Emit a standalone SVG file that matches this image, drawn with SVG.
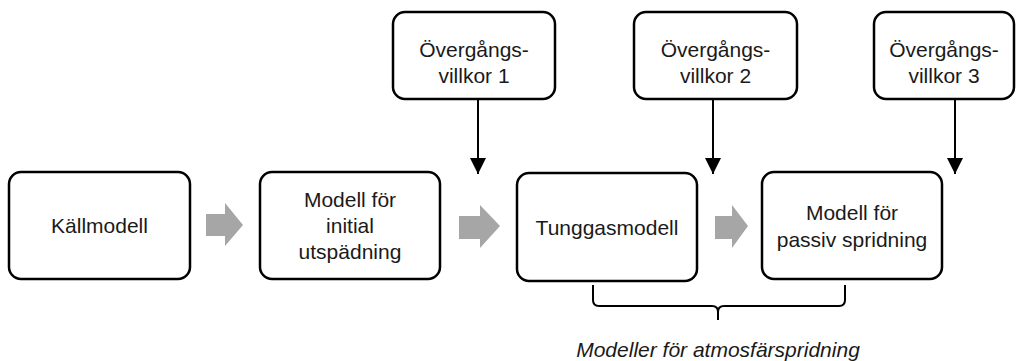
<svg xmlns="http://www.w3.org/2000/svg" width="1026" height="361" viewBox="0 0 1026 361">
<defs>
<style>
.box{fill:#fff;stroke:#000;stroke-width:2.5}
.t{font-family:"Liberation Sans",Arial,sans-serif;font-size:21px;fill:#1a1a1a;text-anchor:middle}
.it{font-family:"Liberation Sans",Arial,sans-serif;font-size:21px;font-style:italic;fill:#1a1a1a;text-anchor:middle}
.ln{stroke:#000;stroke-width:2;fill:none}
.ga{fill:#a6a6a6}
</style>
<marker id="ah" viewBox="0 0 10 10" refX="10" refY="5" markerWidth="8.5" markerHeight="8.5" markerUnits="userSpaceOnUse" orient="auto">
<path d="M0,0 L10,5 L0,10 Z" fill="#000"/>
</marker>
<marker id="ahb" viewBox="0 0 16 16" refX="16" refY="8" markerWidth="16" markerHeight="16" markerUnits="userSpaceOnUse" orient="auto">
<path d="M0,0 L16,8 L0,16 Z" fill="#000"/>
</marker>
</defs>
<rect width="1026" height="361" fill="#fff"/>

<g id="connectors">
<line class="ln" x1="478" y1="99" x2="478" y2="174" marker-end="url(#ahb)"/>
<line class="ln" x1="713" y1="99" x2="713" y2="174" marker-end="url(#ahb)"/>
<line class="ln" x1="955" y1="99" x2="955" y2="174" marker-end="url(#ahb)"/>
<polygon class="ga" points="206,214 225,214 225,203 243,225 225,246 225,236 206,236"/>
<polygon class="ga" points="459,216 480,216 480,205 500,226 480,248 480,239 459,239"/>
<polygon class="ga" points="715,216 732,216 732,205 748,226 732,248 732,239 715,239"/>
<path class="ln" d="M593,285 L593,300 Q593,306 599,306 L712,306 Q718,306 718,312 L718,320 M718,312 Q718,306 724,306 L839,306 Q845,306 845,300 L845,285"/>
</g>

<g id="n_kallmodell">
<rect class="box" x="9" y="172" width="181" height="107" rx="12"/>
<text class="t" x="99.5" y="233">Källmodell</text>
</g>

<g id="n_initial">
<rect class="box" x="260" y="172" width="180" height="107" rx="12"/>
<text class="t" x="350" y="207">Modell för</text>
<text class="t" x="350" y="233">initial</text>
<text class="t" x="350" y="259">utspädning</text>
</g>

<g id="n_tunggas">
<rect class="box" x="517" y="173" width="180" height="108" rx="12"/>
<text class="t" x="607" y="235">Tunggasmodell</text>
</g>

<g id="n_passiv">
<rect class="box" x="762" y="172" width="180" height="107" rx="12"/>
<text class="t" x="852" y="220">Modell för</text>
<text class="t" x="852" y="247">passiv spridning</text>
</g>

<g id="n_ov1">
<rect class="box" x="393" y="12" width="162" height="87" rx="12"/>
<text class="t" x="474" y="57">Övergångs-</text>
<text class="t" x="474" y="83">villkor 1</text>
</g>

<g id="n_ov2">
<rect class="box" x="634" y="12" width="163" height="87" rx="12"/>
<text class="t" x="715.5" y="57">Övergångs-</text>
<text class="t" x="715.5" y="83">villkor 2</text>
</g>

<g id="n_ov3">
<rect class="box" x="874" y="12" width="140" height="87" rx="12"/>
<text class="t" x="944" y="57">Övergångs-</text>
<text class="t" x="944" y="83">villkor 3</text>
</g>

<g id="label">
<text class="it" x="718" y="357">Modeller för atmosfärspridning</text>
</g>
</svg>
